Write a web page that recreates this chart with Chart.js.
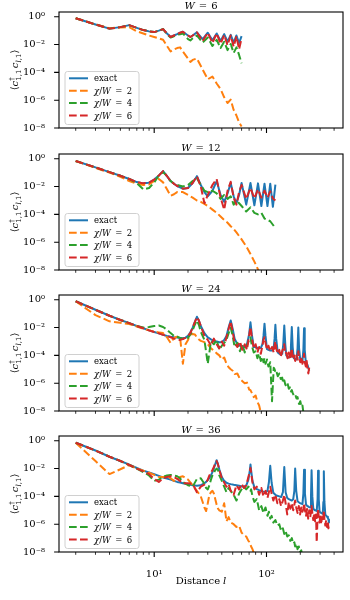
<!DOCTYPE html>
<html lang="en">
<head>
  <meta charset="UTF-8">
  <title>Correlation vs distance</title>
  <script src="https://cdn.jsdelivr.net/npm/chart.js@4"></script>
  <style>
    body { margin: 0; background: #fff; }
    #wrap { position: relative; width: 350px; height: 600px; }
    #wrap canvas { position: absolute; left: 0; }
  </style>
</head>
<body>
  <div id="wrap">
    <canvas id="p6" width="350" height="141" style="top:0px"></canvas>
    <canvas id="p12" width="350" height="141" style="top:142px"></canvas>
    <canvas id="p24" width="350" height="141" style="top:283px"></canvas>
    <canvas id="p36" width="350" height="176" style="top:424px"></canvas>
  </div>

  <script>
    // axis ticks and labels
    const xMajor = [10, 100];
    const xMajorLabels = ['10¹', '10²'];
    const xMinor = [2, 3, 4, 5, 6, 7, 8, 9, 20, 30, 40, 50, 60, 70, 80, 90, 200, 300, 400];
    const yMajor = [1, 1e-2, 1e-4, 1e-6, 1e-8];
    const yMajorLabels = ['10⁰', '10⁻²', '10⁻⁴', '10⁻⁶', '10⁻⁸'];

    const legendLabels = ['exact', 'χ/W = 2', 'χ/W = 4', 'χ/W = 6'];
    const colors = ['#1f77b4', '#ff7f0e', '#2ca02c', '#d62728'];

    // W = 6
    const l6 = [2, 3, 4, 5, 6, 7, 8, 9, 10, 11, 12, 13, 14, 15, 16, 17, 18, 20, 21, 22, 24, 27, 30, 33, 36, 39, 42, 45, 48, 51, 54, 57, 60];
    const exact6 = [0.79, 0.28, 0.14, 0.18, 0.25, 0.16, 0.11, 0.089, 0.079, 0.1, 0.13, 0.063, 0.035, 0.045, 0.056, 0.071, 0.083,
      0.045, 0.035, 0.045, 0.076, 0.025, 0.071, 0.02, 0.063, 0.018, 0.056, 0.016, 0.05, 0.014, 0.045, 0.013, 0.04];
    const chi2_6 = [0.79, 0.28, 0.15, 0.17, 0.18, 0.089, 0.063, 0.045, 0.035, 0.028, 0.022, 7.9e-3, 3.2e-3, 4.5e-3, 5.6e-3, 6.3e-3, 3.2e-3,
      1e-3, 5.6e-4, 7.9e-4, 1e-3, 1.6e-4, 3.2e-5, 5e-5, 1.6e-5, 6.3e-6, 1.6e-6, 6.3e-7, 1.1e-6, 2e-7, 7.9e-8, 2.5e-8, 1.3e-8];
    const chi4_6 = [0.79, 0.28, 0.14, 0.18, 0.24, 0.16, 0.11, 0.089, 0.079, 0.1, 0.13, 0.056, 0.032, 0.04, 0.05, 0.056, 0.063,
      0.025, 0.02, 0.028, 0.045, 0.014, 0.032, 7.9e-3, 0.022, 5.6e-3, 0.016, 4e-3, 0.011, 2.5e-3, 6.3e-3, 1.8e-3, 4.5e-4];
    const chi6_6 = [0.79, 0.28, 0.14, 0.18, 0.25, 0.16, 0.11, 0.089, 0.079, 0.1, 0.13, 0.063, 0.035, 0.045, 0.056, 0.071, 0.083,
      0.045, 0.035, 0.045, 0.076, 0.018, 0.071, 0.013, 0.063, 0.011, 0.05, 8.9e-3, 0.045, 7.1e-3, 0.04, 4.5e-3, 0.028];

    // W = 12
    const l12 = [2, 3, 4, 5, 6, 7, 8, 9, 10, 11, 12, 13, 14, 15, 16, 18, 20, 22, 24, 26, 28, 30, 33, 36, 39, 42, 45, 48, 51, 54, 57, 60,
      66, 72, 78, 84, 90, 96, 102, 108, 114, 120];
    const exact12 = [0.69, 0.24, 0.11, 0.06, 0.035, 0.021, 0.017, 0.019, 0.032, 0.063, 0.13, 0.056, 0.025, 0.016, 0.011,
      7.1e-3, 7.9e-3, 0.018, 0.056, 0.013, 4e-3, 2e-3, 5e-3, 0.025, 2.5e-3, 7.9e-4, 3.2e-3, 0.018, 2e-3, 6.3e-4, 2.5e-3, 0.018,
      5e-4, 0.018, 4.5e-4, 0.017, 4e-4, 0.016, 4e-4, 0.016, 3.5e-4, 0.014];
    const chi2_12 = [0.69, 0.22, 0.1, 0.05, 0.025, 0.016, 0.013, 0.014, 0.025, 0.035, 0.02, 6.3e-3, 2.2e-3, 2.8e-3, 4e-3,
      4e-3, 2.5e-3, 1.6e-3, 1e-3, 7.9e-4, 5.6e-4, 4e-4, 2.2e-4, 1.3e-4, 7.1e-5, 4e-5, 2.5e-5, 1.4e-5, 8.9e-6, 5e-6, 2.8e-6, 1.6e-6,
      5e-7, 1.4e-7, 4e-8, 1.1e-8, 3.2e-9];
    const chi4_12 = [0.69, 0.24, 0.11, 0.06, 0.035, 0.018, 6.3e-3, 7.9e-3, 0.02, 0.063, 0.11, 0.056, 0.025, 0.016, 0.013,
      0.01, 0.013, 0.025, 0.04, 0.013, 5e-3, 4e-3, 5e-3, 3.2e-3, 1.3e-3, 2.5e-3, 1.3e-3, 2e-3, 5e-4, 1e-3, 6.3e-4, 4e-4,
      1.6e-4, 3.2e-4, 1.3e-4, 1e-4, 1.3e-4, 5e-5, 4e-5, 3.2e-5, 1.8e-5, 1e-5];
    const chi6_12 = [0.69, 0.24, 0.11, 0.06, 0.035, 0.021, 0.017, 0.019, 0.032, 0.063, 0.13, 0.056, 0.025, 0.016, 0.011,
      7.1e-3, 7.9e-3, 0.018, 0.056, 0.01, 6.3e-4, 2.5e-3, 0.013, 0.035, 1.6e-3, 2.2e-4, 5e-3, 0.022, 1.6e-3, 5e-4, 4e-3, 0.013,
      1.3e-3, 7.9e-3, 1.4e-3, 6.3e-3, 1.6e-3, 5e-3, 1.6e-3, 4.5e-3, 1.4e-3, 1e-3];

    // W = 24
    const l24 = [2, 3, 4, 5, 6, 7, 8, 9, 10, 11, 12, 13, 14, 15, 16, 17, 18, 19, 20, 21, 22, 23, 24, 25, 26,
      28, 30, 32, 34, 36, 38, 40, 42, 44, 46, 48, 50, 52,
      55, 58, 61, 64, 67, 70, 72, 74, 77, 80, 83, 86, 89,
      92, 94, 96, 98, 101, 104, 108, 112, 116, 118, 120, 122,
      126, 130, 134, 138, 141, 144, 147, 150, 154, 158, 162, 165, 168, 171, 175,
      180, 185, 189, 192, 195, 200, 205, 209, 213, 216, 219, 224, 228, 232, 236, 240];
    const exact24 = [0.78, 0.19, 0.071, 0.035, 0.021, 0.013, 8.9e-3, 6.3e-3, 4.8e-3, 3.8e-3, 3e-3, 2.5e-3, 2.2e-3, 2e-3, 1.9e-3, 1.8e-3, 1.7e-3, 1.9e-3, 2.5e-3, 4.5e-3, 0.01, 0.025, 0.06, 0.032, 0.013,
      4e-3, 2e-3, 1.4e-3, 1.1e-3, 1e-3, 8.9e-4, 8.9e-4, 1.3e-3, 2.5e-3, 0.01, 0.032, 7.9e-3, 1.6e-3,
      6.3e-4, 5e-4, 4.5e-4, 4e-4, 6.3e-4, 3.2e-3, 0.024, 3.2e-3, 4e-4, 4e-4, 3.5e-4, 3.2e-4, 3.5e-4,
      6.3e-4, 2.5e-3, 0.019, 2.5e-3, 2.8e-4, 2.5e-4, 2.2e-4, 2.2e-4, 4e-4, 1.6e-3, 0.016, 1.6e-3,
      1.6e-4, 1.3e-4, 1.1e-4, 1.3e-4, 6.3e-4, 0.014, 6.3e-4, 1e-4, 7.9e-5, 7.1e-5, 7.9e-5, 4e-4, 0.011, 4e-4, 6.3e-5,
      5.6e-5, 5e-5, 3.2e-4, 0.01, 3.2e-4, 4.5e-5, 3.5e-5, 4e-5, 2.5e-4, 8.9e-3, 2.5e-4, 3.2e-5, 2.5e-5, 2e-5, 1.3e-5, 7.9e-6];
    const chi2_24 = [0.78, 0.079, 0.028, 0.022, 0.018, 0.012, 8.3e-3, 6.3e-3, 5e-3, 4.5e-3, 4e-3, 2e-3, 7.9e-4, 1.8e-3, 2.2e-3, 2e-3, 2.5e-5, 6.3e-4, 1.3e-3, 3.2e-3, 3.5e-3, 3.2e-3, 2e-3, 1.4e-3, 1.1e-3,
      8.9e-4, 6.3e-4, 3.2e-4, 2.2e-4, 1.4e-4, 1e-4, 5e-5, 7.1e-5, 2.5e-5, 1.4e-5, 1e-5, 7.9e-6, 4.5e-6,
      5e-6, 2e-6, 1.4e-6, 1e-6, 1.1e-6, 3.5e-7, 3.2e-7, 2e-7, 1e-7, 1.3e-7, 4.5e-8, 2.5e-8, 7.9e-9];
    const chi4_24 = [0.78, 0.19, 0.071, 0.035, 0.021, 0.013, 0.01, 0.011, 0.013, 0.014, 0.011, 7.1e-3, 4e-3, 2.5e-3, 2.2e-3, 1.8e-3, 1.6e-3, 1.4e-3, 1.8e-3, 3.2e-3, 6.3e-3, 0.016, 0.032, 0.016, 5e-3,
      1.3e-3, 2.5e-5, 1e-3, 6.3e-4, 1.3e-3, 2.5e-4, 5e-4, 7.9e-4, 1.3e-3, 4e-3, 0.01, 2.5e-3, 4e-4,
      7.9e-4, 2e-4, 6.3e-4, 1.6e-4, 5e-4, 1.3e-3, 2e-3, 5e-4, 1.6e-4, 2e-4, 6.3e-5, 1.3e-4, 4e-5,
      7.9e-5, 3.2e-5, 6.3e-5, 2.5e-5, 5e-5, 1.6e-5, 3.2e-5, 5e-8, 1.3e-5, 1e-5, 6.3e-6, 7.9e-6,
      3.2e-6, 5e-6, 2e-6, 2.5e-6, 1e-6, 1.6e-6, 7.9e-7, 6.3e-7, 1e-6, 4e-7, 5e-7, 2.5e-7, 3.2e-7, 2e-7, 1.3e-7,
      1.6e-7, 7.9e-8, 1e-7, 5e-8, 3.2e-8, 5e-8, 2e-8, 2.5e-8, 7.9e-9];
    const chi6_24 = [0.78, 0.19, 0.071, 0.035, 0.021, 0.013, 8.9e-3, 6.3e-3, 4.8e-3, 3.8e-3, 3e-3, 2.5e-3, 2e-3, 1.6e-3, 1.4e-3, 1.3e-3, 1.5e-3, 1.8e-3, 2.5e-3, 4e-3, 0.01, 0.025, 0.056, 0.032, 0.013,
      2.5e-3, 1.3e-3, 5e-4, 1.6e-3, 6.3e-4, 3.2e-4, 1e-3, 5e-4, 2e-3, 7.9e-3, 0.028, 5e-3, 7.9e-4,
      4e-4, 1e-3, 2.5e-4, 6.3e-4, 2.5e-4, 2.5e-3, 0.011, 2e-3, 3.2e-4, 6.3e-4, 1.6e-4, 4e-4, 1.3e-4,
      5e-4, 1.3e-3, 2e-3, 7.9e-4, 2.5e-4, 5e-4, 2e-4, 4e-4, 1.6e-4, 5e-4, 1e-3, 3.2e-4,
      1.3e-4, 2.5e-4, 7.9e-5, 2e-4, 3.2e-4, 6.3e-4, 1.3e-4, 1.6e-4, 6.3e-5, 1.6e-4, 5e-5, 1.3e-4, 3.2e-4, 7.9e-5, 1.3e-4,
      4e-5, 1e-4, 5e-5, 2e-4, 6.3e-5, 3.2e-5, 7.9e-5, 2.5e-5, 5e-5, 1.3e-4, 3.2e-5, 1.6e-5, 4e-5, 1e-5, 5e-6, 1.3e-5];

    // W = 36
    const l36 = [2, 3, 4, 5, 6, 7, 8, 9, 10, 11,
      12, 13, 14, 15, 16, 17, 18,
      20, 22, 24, 26, 28,
      29, 30, 31, 32, 33, 34, 35, 36, 37, 38,
      40, 42, 44, 46, 48,
      51, 54, 57, 60, 63, 66, 69,
      71, 72, 73, 75, 78,
      82, 86, 90, 94, 98, 102, 105,
      108, 111, 115, 120, 125, 130, 135, 140,
      144, 148, 153, 158, 163, 168, 173, 177,
      180, 184, 189, 194, 199, 204, 209, 213,
      216, 220, 225, 230, 235, 240, 245, 249,
      252, 256, 261, 266, 271, 276, 280, 285,
      288, 292, 297, 302, 307, 312, 317, 321,
      324, 328, 334, 340, 346, 352, 356, 360];
    const exact36 = [0.72, 0.2, 0.071, 0.035, 0.019, 0.011, 7.1e-3, 5.2e-3, 4e-3, 3e-3,
      2.3e-3, 1.9e-3, 1.6e-3, 1.3e-3, 1.1e-3, 1e-3, 8.9e-4,
      7.4e-4, 6.3e-4, 5.8e-4, 6.3e-4, 8.9e-4,
      1.1e-3, 1.5e-3, 2.1e-3, 3.2e-3, 5.6e-3, 0.0105, 0.021, 0.04, 0.02, 8.9e-3,
      2.5e-3, 1.3e-3, 9.5e-4, 8.3e-4, 7.6e-4,
      6.8e-4, 6.3e-4, 5.8e-4, 5.2e-4, 5.2e-4, 6e-4, 1.6e-3,
      7.1e-3, 0.02, 7.1e-3, 1.3e-3, 4.5e-4,
      3.3e-4, 2.8e-4, 2.5e-4, 2.2e-4, 2.1e-4, 2.5e-4, 1e-3,
      0.016, 1e-3, 1.8e-4, 1.3e-4, 1.1e-4, 1e-4, 8.9e-5, 2e-4,
      0.013, 2e-4, 7.6e-5, 6.3e-5, 5.6e-5, 5e-5, 6.3e-5, 2.5e-4,
      0.01, 2.5e-4, 4.5e-5, 3.8e-5, 3.3e-5, 3e-5, 2.8e-5, 1.6e-4,
      8.3e-3, 1.6e-4, 2.5e-5, 2.1e-5, 1.9e-5, 1.7e-5, 1.6e-5, 1e-4,
      7.6e-3, 1e-4, 1.3e-5, 1.1e-5, 1e-5, 9.5e-6, 8.9e-6, 6.3e-5,
      7.1e-3, 6.3e-5, 7.9e-6, 7.1e-6, 6.3e-6, 6e-6, 5.6e-6, 4e-5,
      6.3e-3, 4e-5, 5e-6, 4e-6, 3.5e-6, 2.8e-6, 2.2e-6, 1.3e-6];
    const chi2_36 = [0.72, 0.035, 4e-3, 8.9e-3, 0.018, 0.01, 7.1e-3, 5e-3, 3.5e-3, 2.5e-3,
      2.5e-3, 2.8e-3, 2e-3, 1.3e-3, 1.6e-3, 2.5e-3, 2.8e-3,
      1.6e-3, 6.3e-4, 2.5e-4, 1e-4, 1.6e-5,
      8.9e-6, 3.2e-5, 1.3e-4, 2e-4, 2.5e-4, 1.6e-4, 6.3e-5, 2.5e-5, 1.3e-5, 1e-5,
      7.9e-6, 3.2e-5, 1.6e-6, 3.2e-6, 1.3e-6,
      1e-6, 6.3e-7, 7.9e-7, 2.5e-7, 1.6e-7, 1.3e-7, 6.3e-8,
      5e-8, 3.2e-8, 2.5e-8, 1.6e-8, 6.3e-9];
    const chi4_36 = [0.72, 0.2, 0.071, 0.035, 0.018, 0.01, 5.6e-3, 3.2e-3, 1.3e-3, 1.6e-3,
      2.5e-3, 3.2e-3, 3.5e-3, 3.2e-3, 2.8e-3, 2e-3, 1.1e-3,
      6.3e-4, 5e-4, 1.8e-3, 2e-3, 7.9e-4,
      4e-4, 3.2e-4, 6.3e-4, 1.6e-3, 3.2e-3, 5e-3, 7.9e-3, 0.01, 7.9e-3, 3.2e-3,
      1.3e-3, 5e-4, 2e-4, 4e-4, 2.5e-4,
      1.3e-4, 5e-5, 1.6e-4, 3.2e-4, 5e-4, 3.2e-4, 5e-4,
      4e-4, 2.5e-4, 3.2e-4, 1e-4, 4e-5,
      6.3e-5, 1e-5, 2e-5, 6.3e-6, 1.6e-5, 4e-6, 7.9e-6,
      2.5e-6, 4e-6, 1.3e-6, 2e-6, 7.9e-7, 1e-6, 3.2e-7, 5e-7,
      2e-7, 3.2e-7, 1.3e-7, 1.6e-7, 6.3e-8, 1e-7, 4e-8, 5e-8,
      2.5e-8, 4e-8, 1.6e-8, 2.5e-8, 1e-8, 1.3e-8, 5e-9];
    const chi6_36 = [0.72, 0.2, 0.071, 0.035, 0.018, 0.01, 6.3e-3, 4e-3, 1.8e-3, 1.1e-3,
      2e-3, 2.5e-3, 2.8e-3, 2.5e-3, 1.8e-3, 1.3e-3, 8.9e-4,
      8.9e-4, 7.9e-4, 2e-4, 5e-4, 7.1e-4,
      1e-3, 1.6e-3, 3.2e-3, 5e-3, 7.9e-3, 0.013, 0.025, 0.035, 0.02, 7.9e-3,
      2e-3, 1e-3, 5e-4, 7.9e-4, 2.5e-4,
      1.3e-4, 6.3e-4, 3.2e-4, 7.9e-4, 4e-4, 6.3e-4, 2.5e-3,
      6.3e-3, 0.011, 5e-3, 1e-3, 3.2e-4,
      5e-4, 1.3e-4, 4e-4, 1e-4, 2.5e-4, 7.9e-5, 2e-4,
      5e-4, 1.6e-4, 5e-5, 1.3e-4, 3.2e-5, 6.3e-5, 2e-5, 5e-5,
      1.3e-4, 3.2e-5, 5e-6, 4e-5, 1.3e-5, 3.2e-5, 1e-5, 2.5e-5,
      5e-5, 1.6e-5, 6.3e-6, 2e-5, 5e-6, 1.6e-5, 7.9e-6, 1.3e-5,
      3.2e-5, 1e-5, 4e-6, 1.3e-5, 2.5e-6, 1e-5, 3.2e-6, 7.9e-6,
      2e-5, 6.3e-6, 2e-6, 6.3e-6, 1.6e-6, 5e-6, 5e-8, 4e-6,
      1.3e-5, 3.2e-6, 1.3e-6, 5e-6, 1e-6, 3.2e-6, 1.6e-6, 4e-6,
      1e-5, 2.5e-6, 7.9e-7, 2e-6, 6.3e-7, 1.6e-6, 5e-7, 1e-6];

    const panels = [
      { id: 'p6', W: 6, l: l6, series: [exact6, chi2_6, chi4_6, chi6_6] },
      { id: 'p12', W: 12, l: l12, series: [exact12, chi2_12, chi4_12, chi6_12] },
      { id: 'p24', W: 24, l: l24, series: [exact24, chi2_24, chi4_24, chi6_24] },
      { id: 'p36', W: 36, l: l36, series: [exact36, chi2_36, chi4_36, chi6_36] }
    ];

    const SERIF = '"DejaVu Serif", "Liberation Serif", serif';
    const DASH = [7.7, 3.3];

    function font(size, italic) {
      return (italic ? 'italic ' : '') + size + 'px ' + SERIF;
    }

    // draws a row of text pieces (sub/superscripts, italics, gaps)
    function drawParts(ctx, parts, x, y, align) {
      let w = 0, prevStart = 0, prevW = 0;
      const pos = [];
      parts.forEach(p => {
        if (p.gap) { pos.push(0); w += p.gap; return; }
        ctx.font = font(p.s, p.it);
        const pw = ctx.measureText(p.t).width;
        if (p.under) {
          pos.push(prevStart);
          prevW = Math.max(prevW, pw);
          w = prevStart + prevW;
        } else {
          pos.push(w);
          prevStart = w; prevW = pw; w += pw;
        }
      });
      const x0 = align === 'center' ? x - w / 2 : x;
      ctx.textAlign = 'left';
      parts.forEach((p, i) => {
        if (p.gap) return;
        ctx.font = font(p.s, p.it);
        ctx.fillText(p.t, x0 + pos[i], y + (p.dy || 0));
      });
    }

    function labelParts(label, s) {
      if (label === 'exact') return [{ t: 'exact', s }];
      const n = label.split('= ')[1];
      return [{ t: 'χ', s, it: true }, { t: '/', s }, { t: 'W', s, it: true }, { gap: 4.5 },
        { t: '=', s }, { gap: 4.5 }, { t: n, s }];
    }

    const yLabelParts = [
      { t: '⟨', s: 10 }, { t: 'c', s: 10, it: true }, { t: '†', s: 7, dy: -4 }, { t: '1,1', s: 7, dy: 2.5, under: true },
      { gap: 1.5 }, { t: 'c', s: 10, it: true }, { t: 'l', s: 7, it: true, dy: 2.5 }, { t: ',1', s: 7, dy: 2.5 }, { t: '⟩', s: 10 }
    ];

    const decor = {
      id: 'decor',
      afterDatasetsDraw(chart) {
        const { ctx, chartArea: a } = chart;
        const xs = chart.scales.x, ys = chart.scales.y;
        ctx.save();
        ctx.strokeStyle = '#000';
        ctx.setLineDash([]);
        ctx.lineWidth = 0.8;
        ctx.beginPath();
        xMinor.forEach(v => {
          const px = xs.getPixelForValue(v);
          ctx.moveTo(px, a.bottom); ctx.lineTo(px, a.bottom + 2.8);
        });
        ctx.stroke();
        ctx.lineWidth = 1.1;
        ctx.beginPath();
        xMajor.forEach(v => {
          const px = xs.getPixelForValue(v);
          ctx.moveTo(px, a.bottom); ctx.lineTo(px, a.bottom + 4.9);
        });
        yMajor.forEach(v => {
          const py = ys.getPixelForValue(v);
          ctx.moveTo(a.left, py); ctx.lineTo(a.left - 4.9, py);
        });
        ctx.stroke();
        ctx.strokeRect(a.left, a.top, a.right - a.left, a.bottom - a.top);
        ctx.restore();
      },
      afterDraw(chart, args, o) {
        const { ctx, chartArea: a } = chart;
        ctx.save();
        ctx.fillStyle = '#000';
        ctx.textBaseline = 'alphabetic';

        // panel title
        drawParts(ctx, [{ t: 'W', s: 10, it: true }, { gap: 4 }, { t: '=', s: 10 }, { gap: 4 }, { t: String(o.W), s: 10 }],
          (a.left + a.right) / 2, a.top - 3, 'center');

        // y axis label
        ctx.save();
        ctx.translate(18, (a.top + a.bottom) / 2);
        ctx.rotate(-Math.PI / 2);
        drawParts(ctx, yLabelParts, 0, 0, 'center');
        ctx.restore();

        if (o.last) {
          drawParts(ctx, [{ t: 'Distance', s: 10 }, { gap: 3 }, { t: 'l', s: 10, it: true }],
            (a.left + a.right) / 2, a.bottom + 32, 'center');
        }

        // legend box, lower left
        const bx = a.left + 6, bw = 74, bh = 53, by = a.bottom - 3.5 - bh, r = 2.5;
        ctx.beginPath();
        ctx.moveTo(bx + r, by);
        ctx.lineTo(bx + bw - r, by); ctx.arcTo(bx + bw, by, bx + bw, by + r, r);
        ctx.lineTo(bx + bw, by + bh - r); ctx.arcTo(bx + bw, by + bh, bx + bw - r, by + bh, r);
        ctx.lineTo(bx + r, by + bh); ctx.arcTo(bx, by + bh, bx, by + bh - r, r);
        ctx.lineTo(bx, by + r); ctx.arcTo(bx, by, bx + r, by, r);
        ctx.closePath();
        ctx.fillStyle = 'rgba(255,255,255,0.8)';
        ctx.fill();
        ctx.strokeStyle = '#d0d0d0';
        ctx.lineWidth = 1;
        ctx.stroke();

        legendLabels.forEach((lab, k) => {
          const ry = by + 6.8 + k * 12.4;
          ctx.strokeStyle = colors[k];
          ctx.lineWidth = 2;
          ctx.lineCap = 'butt';
          ctx.setLineDash(k === 0 ? [] : DASH);
          ctx.beginPath();
          ctx.moveTo(bx + 4, ry); ctx.lineTo(bx + 23, ry);
          ctx.stroke();
          ctx.setLineDash([]);
          ctx.fillStyle = '#000';
          drawParts(ctx, labelParts(lab, 8.5), bx + 29, ry + 3, 'left');
        });
        ctx.restore();
      }
    };

    function pts(l, v) {
      return v.map((y, i) => ({ x: l[i], y: y }));
    }

    panels.forEach((p, idx) => {
      const canvas = document.getElementById(p.id);
      const H = canvas.height;
      const last = idx === panels.length - 1;
      new Chart(canvas, {
        type: 'line',
        data: {
          datasets: p.series.map((v, k) => ({
            label: legendLabels[k],
            data: pts(p.l, v),
            borderColor: colors[k],
            borderWidth: 2,
            borderDash: k === 0 ? [] : DASH,
            borderCapStyle: 'butt',
            borderJoinStyle: 'round',
            pointRadius: 0,
            tension: 0,
            fill: false,
            order: 4 - k
          }))
        },
        options: {
          responsive: false,
          animation: false,
          events: [],
          layout: { padding: { left: 0, right: 7, top: 11, bottom: 0 } },
          scales: {
            x: {
              type: 'logarithmic',
              min: 1.42,
              max: 480,
              grid: { display: false },
              border: { display: false },
              afterBuildTicks: s => { s.ticks = xMajor.map(v => ({ value: v })); },
              afterFit: s => { s.height = H - 128; },
              ticks: {
                display: last,
                autoSkip: false,
                maxRotation: 0,
                padding: 8,
                color: '#000',
                font: { family: SERIF, size: 10 },
                callback: v => xMajorLabels[xMajor.indexOf(v)]
              }
            },
            y: {
              type: 'logarithmic',
              min: 1e-8,
              max: 2.2,
              grid: { display: false },
              border: { display: false },
              afterBuildTicks: s => { s.ticks = yMajor.map(v => ({ value: v })); },
              afterFit: s => { s.width = 59; },
              ticks: {
                autoSkip: false,
                padding: 6,
                color: '#000',
                font: { family: SERIF, size: 10 },
                callback: v => yMajorLabels[yMajor.indexOf(v)]
              }
            }
          },
          plugins: {
            legend: { display: false },
            tooltip: { enabled: false },
            decor: { W: p.W, last: last }
          }
        },
        plugins: [decor]
      });
    });
  </script>
</body>
</html>
